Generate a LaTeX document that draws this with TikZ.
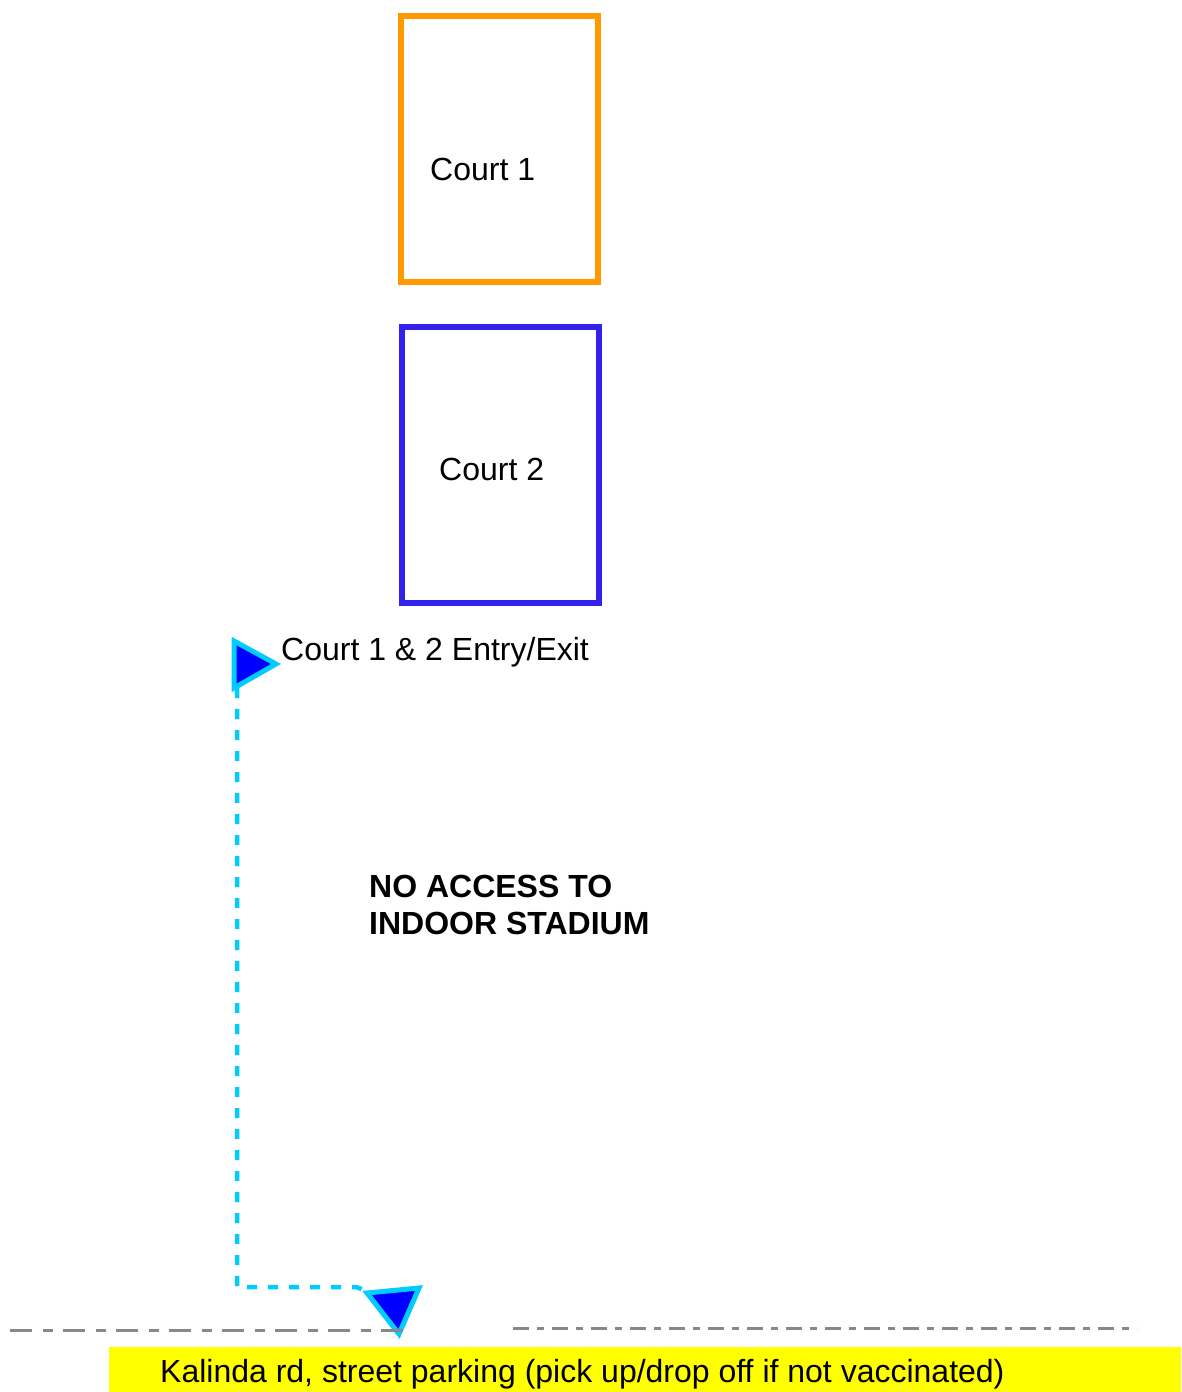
\documentclass[tikz,border=0pt]{standalone}
\usepackage{fontspec}
\setmainfont{Liberation Sans}
\definecolor{courtorange}{RGB}{255,153,0}
\definecolor{courtblue}{RGB}{51,34,238}
\definecolor{pathcyan}{RGB}{0,204,255}
\definecolor{roadgray}{RGB}{136,136,136}
\definecolor{parkyellow}{RGB}{255,255,0}
\begin{document}
\begin{tikzpicture}[x=1pt,y=-1pt,
  court/.style={draw,line width=6.5pt,minimum width=197pt,minimum height=#1,inner sep=0pt},
  lbl/.style={inner sep=0pt,anchor=base west,font=\fontsize{32}{37}\selectfont},
  marker/.style={fill=blue,draw=pathcyan,line width=5pt,line join=miter},
  route/.style={draw=pathcyan,line width=4.5pt,dash pattern=on 10pt off 11pt},
  roadA/.style={draw=roadgray,line width=3pt,dash pattern=on 22pt off 11pt on 10pt off 10pt},
  roadB/.style={draw=roadgray,line width=3pt,dash pattern=on 16pt off 8pt on 7pt off 8pt}]
\useasboundingbox (0,0) rectangle (1181,1392);
% courts
\node[court=266pt,draw=courtorange] (c1) at (499.5,149) {};
\node[court=276pt,draw=courtblue] (c2) at (500.5,465) {};
\node[lbl] (c1t) at (430,180) {Court 1};
\node[lbl] (c2t) at (439,480) {Court 2};
% entry marker
\path[marker] (234,641) -- (276,664) -- (234,688) -- cycle;
\coordinate (entry) at (237,688);
\node[lbl] (entryt) at (281,660) {Court 1 \& 2 Entry/Exit};
% exit marker
\path[marker] (367,1293) -- (419,1288) -- (399,1334) -- cycle;
\coordinate (exit) at (366,1292);
\coordinate (bend) at (237,1287);
\coordinate (bend2) at (354,1287);
\draw[route] (entry) -- (bend) -- (bend2) to[out=0,in=150] (exit);
% note
\node[inner sep=0pt,anchor=base west,align=left,font=\bfseries\fontsize{32}{37}\selectfont] (note) at (369,934) {NO ACCESS TO\\INDOOR STADIUM};
% road
\coordinate (ra1) at (10,1330);
\coordinate (ra2) at (405,1330);
\coordinate (rb1) at (513,1328);
\coordinate (rb2) at (1137,1328);
\draw[roadA] (ra1) -- (ra2);
\draw[roadB] (rb1) -- (rb2);
% parking
\fill[parkyellow] (109,1347) rectangle (1181,1392);
\node[lbl] (park) at (160,1382) {Kalinda rd, street parking (pick up/drop off if not vaccinated)};
\end{tikzpicture}
\end{document}
